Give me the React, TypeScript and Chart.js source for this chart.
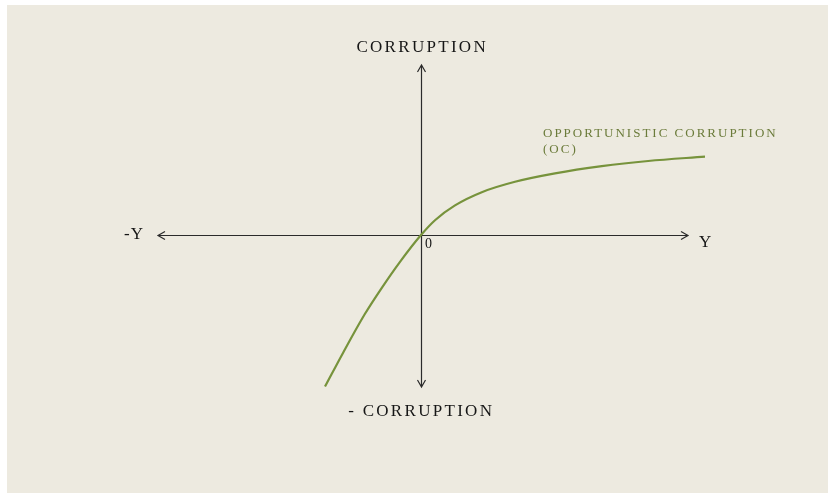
import React, { useEffect, useRef } from "react";
import { Chart, registerables } from "chart.js";

Chart.register(...registerables);

// Curve: opportunistic corruption (x = income Y, y = corruption)
const curveX = [-2.4, -1.94, -1.4, -0.98, -0.525, 0, 0.35, 0.85, 1.52, 2.35, 3.35, 4.52, 5.68, 7.1];
const curveY = [-3.79, -2.93, -1.97, -1.32, -0.67, 0, 0.37, 0.74, 1.07, 1.33, 1.54, 1.72, 1.85, 1.96];

// Axis extents (data units)
const xAxisRange = [-6.575, 6.675];
const yAxisRange = [-3.8, 4.25];

// Labels
const topLabel = "CORRUPTION";
const bottomLabel = "- CORRUPTION";
const leftLabel = "-Y";
const rightLabel = "Y";
const originLabel = "0";
const curveLabel = ["OPPORTUNISTIC CORRUPTION", "(OC)"];

const W = 821;
const H = 488;
const K = 40;
const X_MIN = -414 / K;
const X_MAX = (W - 414) / K;
const Y_MAX = 230 / K;
const Y_MIN = -(H - 230) / K;

const SERIF = "'Liberation Serif', 'DejaVu Serif', serif";

const decorPlugin = {
  id: "decor",
  beforeDraw(chart: any) {
    const { ctx } = chart;
    ctx.save();
    ctx.fillStyle = "#EDEAE0";
    ctx.fillRect(0, 0, chart.width, chart.height);
    ctx.restore();
  },
  beforeDatasetsDraw(chart: any) {
    const { ctx } = chart;
    const xs = chart.scales.x;
    const ys = chart.scales.y;
    const ox = Math.round(xs.getPixelForValue(0)) + 0.5;
    const oy = Math.round(ys.getPixelForValue(0)) + 0.5;
    const xl = xs.getPixelForValue(xAxisRange[0]);
    const xr = xs.getPixelForValue(xAxisRange[1]);
    const yt = ys.getPixelForValue(yAxisRange[1]);
    const yb = ys.getPixelForValue(yAxisRange[0]);
    ctx.save();
    ctx.strokeStyle = "#2b2b2b";
    ctx.lineWidth = 1.2;
    ctx.beginPath();
    ctx.moveTo(xl, oy);
    ctx.lineTo(xr, oy);
    ctx.moveTo(ox, yt);
    ctx.lineTo(ox, yb);
    const a = 7;
    const b = 4;
    ctx.moveTo(xl + a, oy - b);
    ctx.lineTo(xl, oy);
    ctx.lineTo(xl + a, oy + b);
    ctx.moveTo(xr - a, oy - b);
    ctx.lineTo(xr, oy);
    ctx.lineTo(xr - a, oy + b);
    ctx.moveTo(ox - b, yt + a);
    ctx.lineTo(ox, yt);
    ctx.lineTo(ox + b, yt + a);
    ctx.moveTo(ox - b, yb - a);
    ctx.lineTo(ox, yb);
    ctx.lineTo(ox + b, yb - a);
    ctx.stroke();
    ctx.restore();
  },
  afterDraw(chart: any) {
    const { ctx } = chart;
    const xs = chart.scales.x;
    const ys = chart.scales.y;
    const ox = xs.getPixelForValue(0);
    const oy = ys.getPixelForValue(0);
    const xl = xs.getPixelForValue(xAxisRange[0]);
    const xr = xs.getPixelForValue(xAxisRange[1]);
    const yt = ys.getPixelForValue(yAxisRange[1]);
    const yb = ys.getPixelForValue(yAxisRange[0]);
    ctx.save();
    ctx.textBaseline = "middle";
    ctx.fillStyle = "#161616";
    ctx.font = `17px ${SERIF}`;
    (ctx as any).letterSpacing = "2.3px";
    ctx.textAlign = "center";
    ctx.fillText(topLabel, ox + 1.2, yt - 17);
    ctx.fillText(bottomLabel, ox + 0.2, yb + 25);
    (ctx as any).letterSpacing = "1px";
    ctx.textAlign = "right";
    ctx.fillText(leftLabel, xl - 14, oy);
    ctx.textAlign = "left";
    ctx.fillText(rightLabel, xr + 11, oy + 8);
    ctx.font = `14px ${SERIF}`;
    (ctx as any).letterSpacing = "0px";
    ctx.fillText(originLabel, ox + 4, oy + 9);
    ctx.fillStyle = "#6B7B3A";
    ctx.font = `13px ${SERIF}`;
    (ctx as any).letterSpacing = "2px";
    const lx = xs.getPixelForValue(curveX[curveX.length - 1]) - 162;
    const ly = ys.getPixelForValue(curveY[curveY.length - 1]) - 23;
    ctx.fillText(curveLabel[0], lx, ly);
    ctx.fillText(curveLabel[1], lx, ly + 16);
    ctx.restore();
  },
};

export default function App() {
  const ref = useRef<HTMLCanvasElement>(null);
  useEffect(() => {
    if (!ref.current) return;
    const chart = new Chart(ref.current, {
      type: "scatter",
      data: {
        datasets: [
          {
            data: curveX.map((x, i) => ({ x, y: curveY[i] })),
            showLine: true,
            borderColor: "#77933C",
            borderWidth: 2.2,
            pointRadius: 0,
            cubicInterpolationMode: "monotone",
            fill: false,
          },
        ],
      },
      options: {
        responsive: false,
        animation: false,
        layout: { padding: 0 },
        plugins: { legend: { display: false }, tooltip: { enabled: false } },
        scales: {
          x: { type: "linear", min: X_MIN, max: X_MAX, display: false },
          y: { type: "linear", min: Y_MIN, max: Y_MAX, display: false },
        },
      },
      plugins: [decorPlugin],
    });
    return () => chart.destroy();
  }, []);
  return (
    <div style={{ position: "absolute", left: 7, top: 5, width: W, height: H }}>
      <canvas ref={ref} width={W} height={H} style={{ display: "block" }} />
    </div>
  );
}
